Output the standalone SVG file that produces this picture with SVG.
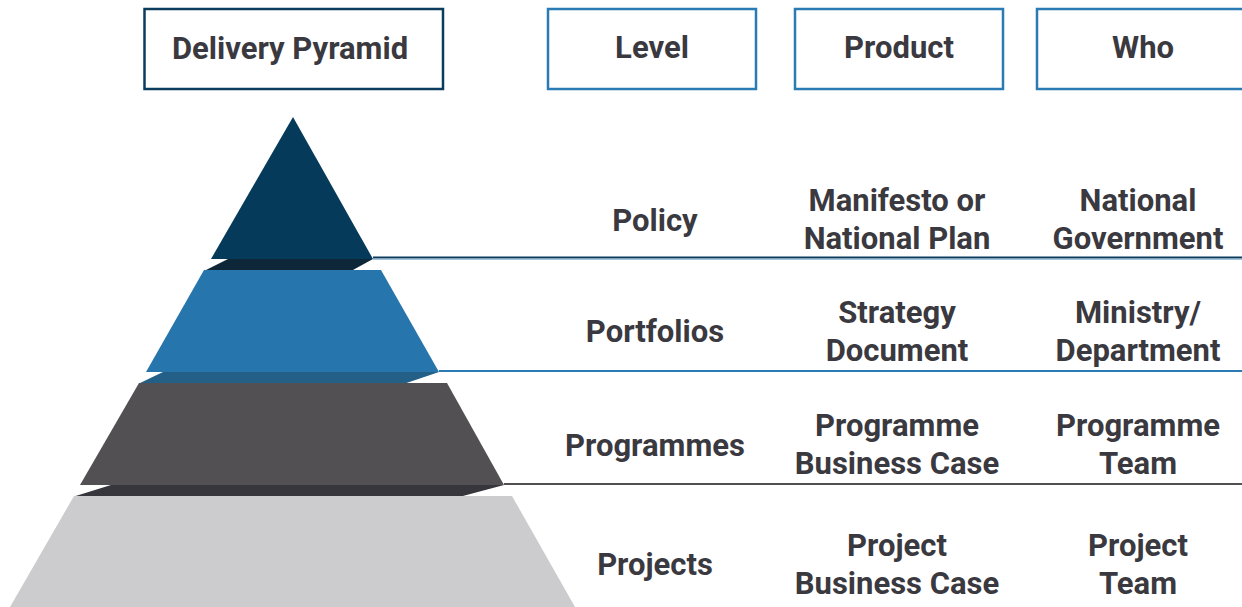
<svg xmlns="http://www.w3.org/2000/svg" width="1242" height="607" viewBox="0 0 1242 607">
<style>
.hdr{fill:#ffffff;stroke-width:2.5}
.t{font-family:Roboto,"Liberation Sans",sans-serif;font-weight:bold;fill:#3a3940;text-anchor:middle;font-size:31px}
.h{font-size:31px}
</style>
<rect width="1242" height="607" fill="#ffffff"/>
<g id="header-pyramid"><rect class="hdr" x="144.5" y="9" width="298.5" height="80" stroke="#0b3c5d"/><text class="t h" x="290" y="59">Delivery Pyramid</text></g>
<g id="header-level"><rect class="hdr" x="548" y="9" width="208" height="80" stroke="#2a7ab4"/><text class="t h" x="652" y="58">Level</text></g>
<g id="header-product"><rect class="hdr" x="795" y="9" width="208" height="80" stroke="#2a7ab4"/><text class="t h" x="899" y="58">Product</text></g>
<g id="header-who"><rect class="hdr" x="1037" y="9" width="210" height="80" stroke="#2a7ab4"/><text class="t h" x="1143" y="58">Who</text></g>
<g id="connectors">
<line x1="373" y1="257.5" x2="1242" y2="257.5" stroke="#0b3c5d" stroke-width="2"/>
<line x1="373" y1="259.2" x2="1242" y2="259.2" stroke="#7fa8c9" stroke-width="1"/>
<line x1="439" y1="371" x2="1242" y2="371" stroke="#2a7ab4" stroke-width="2"/>
<line x1="504" y1="484" x2="1242" y2="484" stroke="#535054" stroke-width="2"/>
</g>
<g id="policy">
<polygon points="228,259 373,259 352,270.5 205,270.5" fill="#0d2638"/>
<polygon points="293,117 373,259 211,259" fill="#053a5a"/>
<text class="t" x="655" y="231">Policy</text>
<text class="t" x="897" y="211">Manifesto or</text><text class="t" x="897" y="249">National Plan</text>
<text class="t" x="1138" y="211">National</text><text class="t" x="1138" y="249">Government</text>
</g>
<g id="portfolios">
<polygon points="163,372 439,372 405,383.5 139,383.5" fill="#245f87"/>
<polygon points="204,270 381,270 439,372 146,372" fill="#2775ad"/>
<text class="t" x="655" y="342">Portfolios</text>
<text class="t" x="897" y="323">Strategy</text><text class="t" x="897" y="361">Document</text>
<text class="t" x="1138" y="323">Ministry/</text><text class="t" x="1138" y="361">Department</text>
</g>
<g id="programmes">
<polygon points="111,485 504,485 461,496.5 74,496.5" fill="#37363d"/>
<polygon points="139,383 447,383 504,485 80,485" fill="#535054"/>
<text class="t" x="655" y="456">Programmes</text>
<text class="t" x="897" y="436">Programme</text><text class="t" x="897" y="474">Business Case</text>
<text class="t" x="1138" y="436">Programme</text><text class="t" x="1138" y="474">Team</text>
</g>
<g id="projects">
<polygon points="74,496 512,496 575,607 10,607" fill="#cccbcd"/>
<text class="t" x="655" y="575">Projects</text>
<text class="t" x="897" y="556">Project</text><text class="t" x="897" y="594">Business Case</text>
<text class="t" x="1138" y="556">Project</text><text class="t" x="1138" y="594">Team</text>
</g>
</svg>
